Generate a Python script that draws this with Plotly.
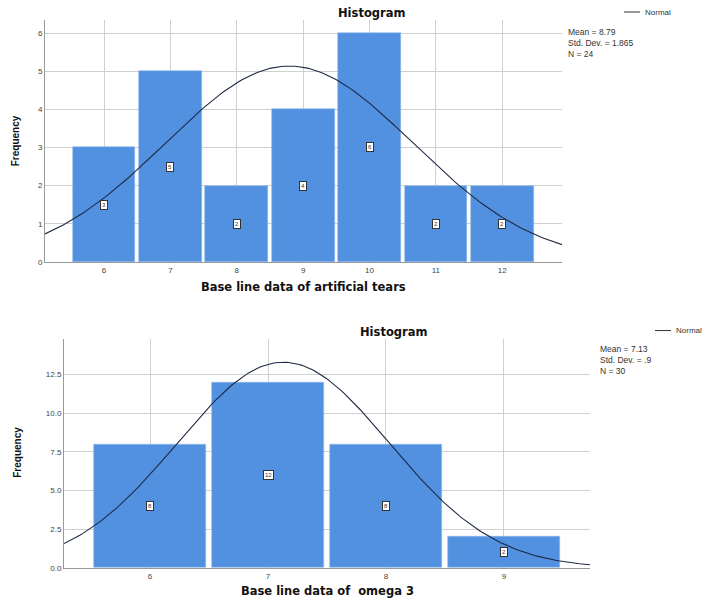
import numpy as np
import plotly.graph_objects as go

# ---- data ----
tears_values = [6, 7, 8, 9, 10, 11, 12]
tears_counts = [3, 5, 2, 4, 6, 2, 2]
tears_mean, tears_sd, tears_n = 8.79, 1.865, 24

omega_values = [6, 7, 8, 9]
omega_counts = [8, 12, 8, 2]
omega_mean, omega_sd, omega_n = 7.13, 0.9, 30

BAR = "#5290e0"
FONT = "Liberation Sans, Arial, sans-serif"
TFONT = "DejaVu Sans, Liberation Sans, sans-serif"
NFONT = "Liberation Sans Narrow, Liberation Sans, sans-serif"

W, H = 705, 607
REF_W, REF_H = 705, 601

def px(x):
    return x / REF_W

def py(y):
    return 1 - y / REF_H

fig = go.Figure()

def normal_curve(mean, sd, n, lo, hi):
    xs = np.linspace(lo, hi, 200)
    ys = n / (sd * np.sqrt(2 * np.pi)) * np.exp(-0.5 * ((xs - mean) / sd) ** 2)
    return xs, ys

panels = [
    dict(vals=tears_values, counts=tears_counts, mean=tears_mean, sd=tears_sd, n=tears_n,
         xa="x", ya="y", xr=[5.11, 12.9], yr=[0, 6.34], sd_txt="1.865"),
    dict(vals=omega_values, counts=omega_counts, mean=omega_mean, sd=omega_sd, n=omega_n,
         xa="x2", ya="y2", xr=[5.27, 9.73], yr=[0, 14.83], sd_txt=".9"),
]

annotations = []
for p in panels:
    fig.add_trace(go.Bar(x=p["vals"], y=p["counts"], width=0.945,
                         marker=dict(color=BAR, line=dict(color="#8fb8ec", width=0.6)),
                         xaxis=p["xa"], yaxis=p["ya"], showlegend=False, hoverinfo="skip"))
    cx, cy = normal_curve(p["mean"], p["sd"], p["n"], p["xr"][0], p["xr"][1])
    fig.add_trace(go.Scatter(x=cx, y=cy, mode="lines",
                             line=dict(color="#1e2a44", width=1.1),
                             xaxis=p["xa"], yaxis=p["ya"], showlegend=False, hoverinfo="skip"))
    for v, c in zip(p["vals"], p["counts"]):
        annotations.append(dict(x=v, y=c / 2, xref=p["xa"], yref=p["ya"], text=str(c),
                                showarrow=False, font=dict(size=6, color="#333", family=FONT),
                                bgcolor="white", bordercolor="#333", borderwidth=1, borderpad=1))

axis_common = dict(showline=True, linecolor="#999", linewidth=1, showgrid=True,
                   gridcolor="#d0d0d0", gridwidth=1, zeroline=False, ticks="",
                   tickfont=dict(size=8, color="#444", family=FONT))

fig.update_layout(
    width=W, height=H, margin=dict(l=0, r=0, t=0, b=0),
    paper_bgcolor="white", plot_bgcolor="white", bargap=0,
    xaxis=dict(domain=[px(45), px(562)], range=panels[0]["xr"], tickmode="array",
               tickvals=tears_values, anchor="y", **axis_common),
    yaxis=dict(domain=[py(261.5), py(20)], range=panels[0]["yr"], dtick=1, tick0=0,
               anchor="x", **axis_common),
    xaxis2=dict(domain=[px(64), px(590)], range=panels[1]["xr"], tickmode="array",
                tickvals=omega_values, anchor="y2", **axis_common),
    yaxis2=dict(domain=[py(567), py(338)], range=panels[1]["yr"], dtick=2.5, tick0=0,
                tickformat=".1f", anchor="x2", **axis_common),
)

def txt(x, y, s, size=9, bold=False, angle=0, xanchor="center", yanchor="middle",
        color="#111", family=FONT):
    annotations.append(dict(x=px(x), y=py(y), xref="paper", yref="paper",
                            text=f"<b>{s}</b>" if bold else s, showarrow=False,
                            textangle=angle, xanchor=xanchor, yanchor=yanchor, align="left",
                            font=dict(size=size, color=color, family=family)))

# top panel texts
txt(371, 13, "Histogram", size=11.5, bold=True, family=TFONT)
txt(303, 287, "Base line data of artificial tears", size=11.5, bold=True, family=TFONT)
txt(15, 141, "Frequency", size=10, bold=True, angle=-90, family=NFONT)
txt(566, 43, f"Mean = {tears_mean}<br>Std. Dev. = {panels[0]['sd_txt']}<br>N = {tears_n}",
    size=8.5, xanchor="left", color="#333")
txt(643, 12, "Normal", size=8, xanchor="left", color="#333")

# bottom panel texts
txt(393, 331, "Histogram", size=11.5, bold=True, family=TFONT)
txt(327, 590, "Base line data of  omega 3", size=11.5, bold=True, family=TFONT)
txt(18, 452, "Frequency", size=10, bold=True, angle=-90, family=NFONT)
txt(598, 359, f"Mean = {omega_mean}<br>Std. Dev. = {panels[1]['sd_txt']}<br>N = {omega_n}",
    size=8.5, xanchor="left", color="#333")
txt(704, 330, "Normal", size=8, xanchor="right", color="#333")

fig.update_layout(annotations=annotations, shapes=[
    dict(type="line", xref="paper", yref="paper", x0=px(624), x1=px(640),
         y0=py(12), y1=py(12), line=dict(color="#333", width=1)),
    dict(type="line", xref="paper", yref="paper", x0=px(655), x1=px(671),
         y0=py(330), y1=py(330), line=dict(color="#333", width=1)),
])

fig.write_html(
    "out.html",
    config={"displayModeBar": False},
    post_script="document.body.style.margin='0';"
                "document.documentElement.style.overflow='hidden';"
                "document.body.style.overflow='hidden';",
)
